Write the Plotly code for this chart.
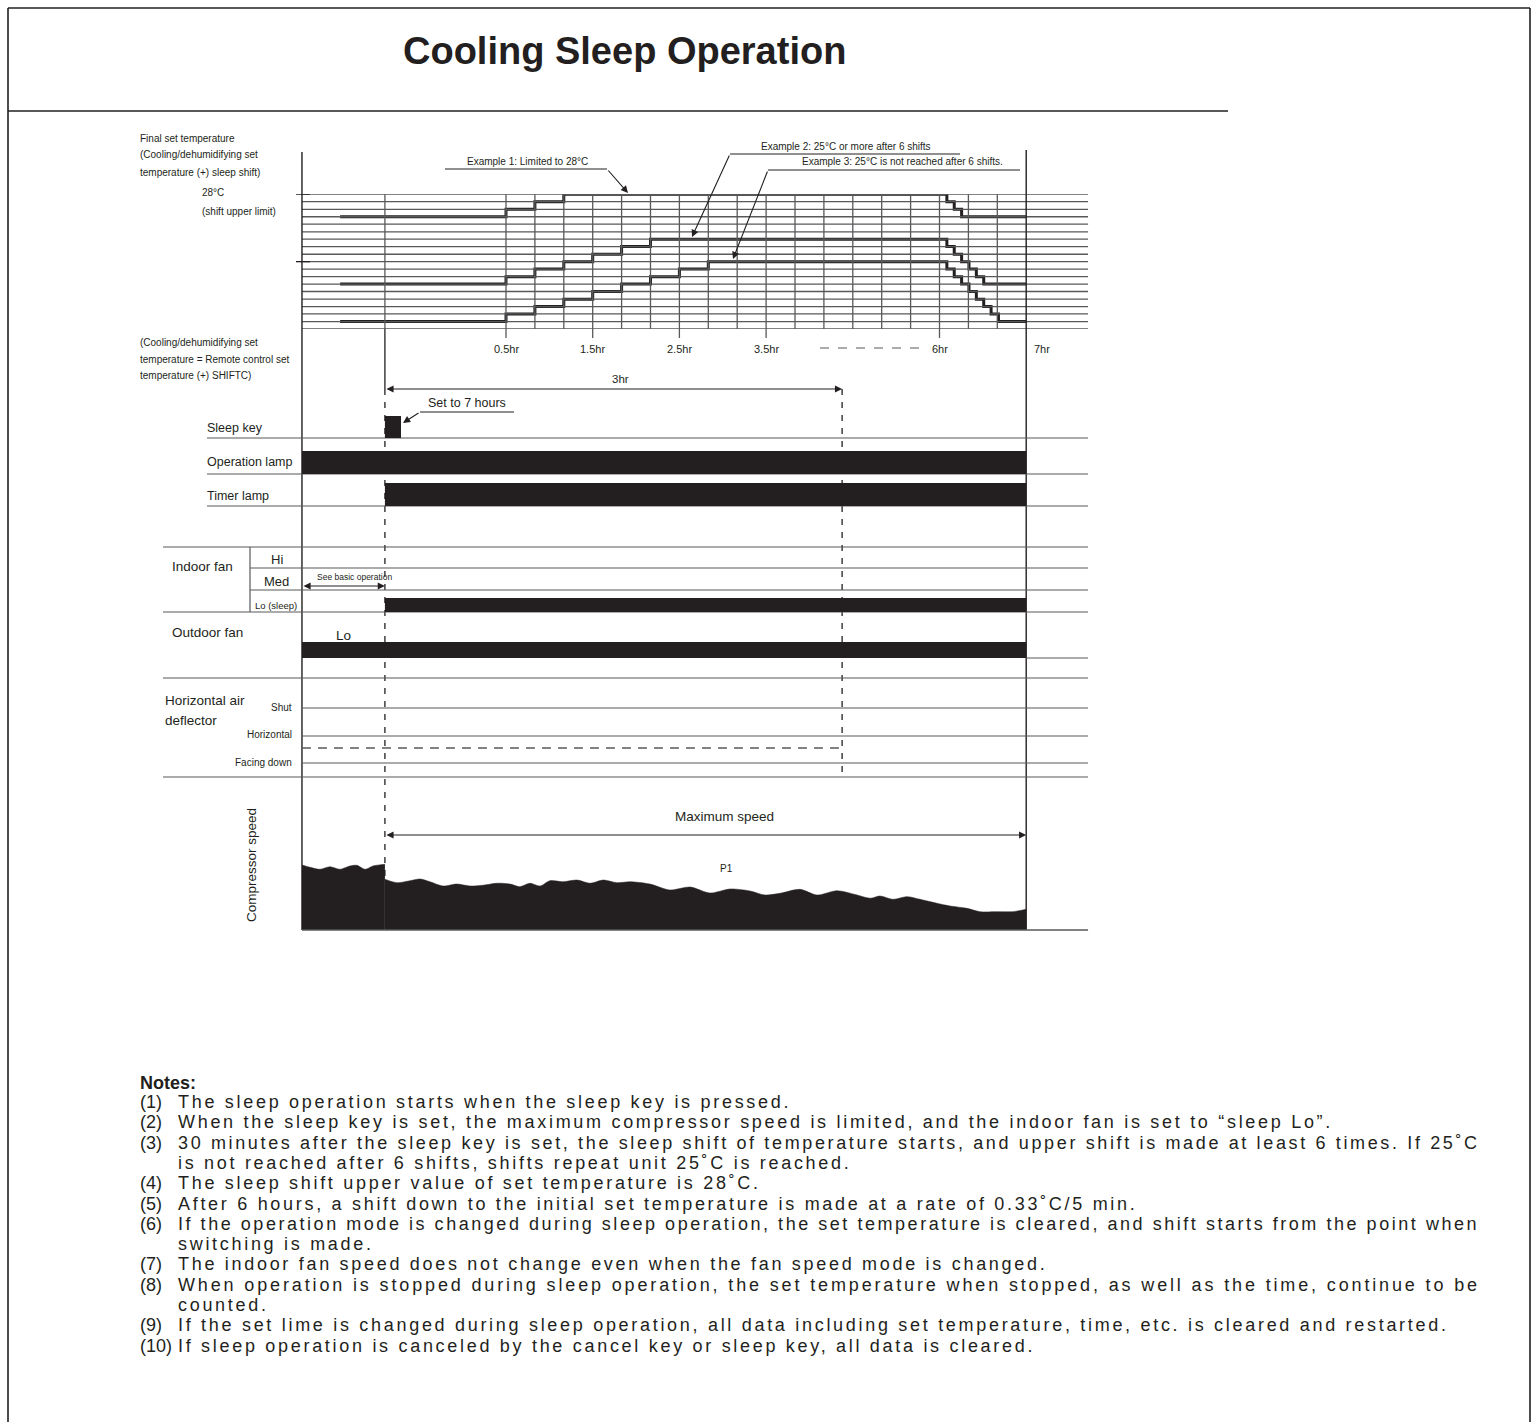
import plotly.graph_objects as go

W, H = 1535, 1422
INK = "#231f20"
GRID = "#58595b"
FONT = "Liberation Sans, Arial, Helvetica, sans-serif"

# ---------------- data ----------------
title = "Cooling Sleep Operation"

# time axis expressed in drawing "shift cells" (one cell = one shift step on the drawing)
tick_cells = [0, 3, 6, 9, 15]
tick_labels = ["0.5hr", "1.5hr", "2.5hr", "3.5hr", "6hr"]
end_cell = 18            # 7hr (end of sleep timer)
end_label = "7hr"
sleep_cell = -4.19       # sleep key pressed
three_hr_cell = 11.63    # 3hr mark
pre_cell = -5.74         # start of the initial set-temperature lines
axis_cell = -7.06        # left edge of the timing chart
grid_end_cell = 20.14    # right end of the row lines
grid_cells = [-4.19, 0, 1, 2, 3, 4, 5, 6, 7, 8, 9, 10, 11, 12, 13, 14, 15, 16, 17]

# set temperature levels (°C), 1/3 °C apart
temp_levels = [28.0, 27.67, 27.33, 27.0, 26.67, 26.33, 26.0, 25.67, 25.33, 25.0,
               24.67, 24.33, 24.0, 23.67, 23.33, 23.0, 22.67, 22.33, 22.0]
temp_ticks = [28.0, 25.0]

# Example 1: limited to 28°C
ex1_x = [-5.74, 0, 1, 2, 15.255, 15.51, 15.765, 18]
ex1_y = [27.0, 27.33, 27.67, 28.0, 27.67, 27.33, 27.0, 27.0]
# Example 2: 25°C or more after 6 shifts
ex2_x = [-5.74, 0, 1, 2, 3, 4, 5, 15.255, 15.51, 15.765, 16.02, 16.275, 16.53, 18]
ex2_y = [24.0, 24.33, 24.67, 25.0, 25.33, 25.67, 26.0, 25.67, 25.33, 25.0, 24.67, 24.33, 24.0, 24.0]
# Example 3: 25°C is not reached after 6 shifts
ex3_x = [-5.74, 0, 1, 2, 3, 4, 5, 6, 7, 15.255, 15.51, 15.765, 16.02, 16.275, 16.53, 16.785, 17.04, 18]
ex3_y = [22.33, 22.67, 23.0, 23.33, 23.67, 24.0, 24.33, 24.67, 25.0, 24.67, 24.33, 24.0, 23.67,
         23.33, 23.0, 22.67, 22.33, 22.33]

# compressor speed (% of maximum) before / after the sleep key
comp_pre_x = [-7.06, -6.78, -6.44, -6.09, -5.74, -5.40, -5.16, -4.88, -4.60, -4.19]
comp_pre_y = [68.4, 66.0, 63.9, 66.6, 63.9, 67.4, 68.1, 63.9, 67.4, 69.2]
comp_post_x = [-4.19, -3.77, -3.32, -2.98, -2.63, -2.18, -1.70, -1.25, -0.80, -0.31, 0.14, 0.48,
               0.83, 1.18, 1.52, 1.97, 2.46, 2.91, 3.36, 3.84, 4.29, 4.98, 5.67, 6.37, 7.06, 7.75,
               8.44, 8.96, 9.48, 10.17, 10.76, 11.45, 12.15, 12.60, 12.94, 13.39, 13.88, 14.33,
               14.91, 15.36, 15.95, 16.40, 16.99, 17.54, 18.0]
comp_post_y = [53.4, 49.8, 51.9, 53.7, 50.8, 46.3, 48.4, 46.3, 47.1, 49.2, 48.4, 45.6,
               49.2, 46.3, 51.9, 50.8, 52.6, 49.2, 52.6, 49.8, 50.8, 48.4, 42.1, 45.3, 38.9, 43.2,
               41.1, 36.8, 38.6, 42.8, 36.8, 41.4, 36.8, 33.4, 35.8, 32.3, 35.1, 32.3,
               28.1, 25.3, 22.8, 19.3, 19.3, 19.3, 21.8]

# notes: (number, text, justified-to-full-width?)
notes = [
    ("(1)", "The sleep operation starts when the sleep key is pressed.", None),
    ("(2)", "When the sleep key is set, the maximum compressor speed is limited, and the indoor fan is set to \u201csleep Lo\u201d.", None),
    ("(3)", "30 minutes after the sleep key is set, the sleep shift of temperature starts, and upper shift is made at least 6 times. If 25\u02daC", 2.64),
    ("", "is not reached after 6 shifts, shifts repeat unit 25\u02daC is reached.", None),
    ("(4)", "The sleep shift upper value of set temperature is 28\u02daC.", None),
    ("(5)", "After 6 hours, a shift down to the initial set temperature is made at a rate of 0.33\u02daC/5 min.", None),
    ("(6)", "If the operation mode is changed during sleep operation, the set temperature is cleared, and shift starts from the point when", 2.54),
    ("", "switching is made.", None),
    ("(7)", "The indoor fan speed does not change even when the fan speed mode is changed.", None),
    ("(8)", "When operation is stopped during sleep operation, the set temperature when stopped, as well as the time, continue to be", 2.86),
    ("", "counted.", None),
    ("(9)", "If the set lime is changed during sleep operation, all data including set temperature, time, etc. is cleared and restarted.", None),
    ("(10)", "If sleep operation is canceled by the cancel key or sleep key, all data is cleared.", None),
]

# ---------------- geometry helpers (layout only) ----------------
ORIGIN_PX, CELL_PX = 506.0, 28.9
def cx(px):
    return (px - ORIGIN_PX) / CELL_PX

TEMP_TOP_PX, TEMP_BOT_PX = 194.3, 329.0
COMP_TOP_PX, COMP_BOT_PX = 835.0, 930.0

fig = go.Figure()

# compressor speed area
fig.add_trace(go.Scatter(x=comp_pre_x, y=comp_pre_y, yaxis="y3", mode="lines",
                         line=dict(color=INK, width=0.5, shape="spline", smoothing=0.8),
                         fill="tozeroy", fillcolor=INK, hoverinfo="skip"))
fig.add_trace(go.Scatter(x=comp_post_x, y=comp_post_y, yaxis="y3", mode="lines",
                         line=dict(color=INK, width=0.5, shape="spline", smoothing=0.8),
                         fill="tozeroy", fillcolor=INK, hoverinfo="skip"))

shapes = []
def line(x0, y0, x1, y1, color=GRID, width=1.2, dash=None, xref="x", yref="y", layer="above"):
    d = dict(type="line", x0=x0, y0=y0, x1=x1, y1=y1, xref=xref, yref=yref, layer=layer,
             line=dict(color=color, width=width))
    if dash:
        d["line"]["dash"] = dash
    shapes.append(d)

def rect(x0, y0, x1, y1, xref="x", yref="y"):
    shapes.append(dict(type="rect", x0=x0, y0=y0, x1=x1, y1=y1, xref=xref, yref=yref,
                       line=dict(width=0), fillcolor=INK))

# page frame
line(8 / W, 1 - 8 / H, 1530 / W, 1 - 8 / H, INK, 1.6, xref="paper", yref="paper")
line(8 / W, 1 - 8 / H, 8 / W, 0, INK, 1.6, xref="paper", yref="paper")
line(1530 / W, 1 - 8 / H, 1530 / W, 0, INK, 1.6, xref="paper", yref="paper")
line(8 / W, 1 - 111 / H, 1228 / W, 1 - 111 / H, INK, 1.6, xref="paper", yref="paper")

# temperature grid (y2 in °C)
for t in temp_levels:
    line(axis_cell, t, grid_end_cell, t, GRID, 1.3, yref="y2")
for g in grid_cells:
    line(g, temp_levels[-1], g, temp_levels[0], GRID, 1.3, yref="y2")
for t in temp_ticks:
    line(cx(296), t, cx(310), t, INK, 1.3, yref="y2")
for c in tick_cells:
    line(c, TEMP_BOT_PX, c, 338, GRID, 1.3)
line(cx(820), 348, cx(925), 348, GRID, 1.2, dash="dash")

# main verticals
line(axis_cell, 152, axis_cell, COMP_BOT_PX, INK, 1.4)
line(end_cell, 150, end_cell, COMP_BOT_PX, INK, 1.4)
line(sleep_cell, TEMP_BOT_PX, sleep_cell, 389, INK, 1.3)
line(sleep_cell, 389, sleep_cell, 878, INK, 1.3, dash="6px,7px", layer="below")
line(three_hr_cell, 389, three_hr_cell, 778, INK, 1.3, dash="6px,7px")

# row lines
line(cx(207), 438, grid_end_cell, 438)
line(cx(207), 474, grid_end_cell, 474)
line(cx(207), 506, grid_end_cell, 506)
line(cx(163), 547, grid_end_cell, 547)
line(cx(250), 568, grid_end_cell, 568)
line(cx(250), 590, grid_end_cell, 590)
line(cx(163), 612, grid_end_cell, 612)
line(cx(250), 547, cx(250), 612)
line(end_cell, 658, grid_end_cell, 658)
line(cx(163), 678, grid_end_cell, 678)
line(axis_cell, 708, grid_end_cell, 708)
line(axis_cell, 736, grid_end_cell, 736)
line(axis_cell, 748, three_hr_cell, 748, GRID, 1.3, dash="9px,7px")
line(axis_cell, 763, grid_end_cell, 763)
line(cx(163), 777, grid_end_cell, 777)
line(axis_cell, COMP_BOT_PX, grid_end_cell, COMP_BOT_PX, GRID, 1.3)

# bars
rect(sleep_cell, 416, cx(401), 438)          # sleep key pulse
rect(axis_cell, 451, end_cell, 474)          # operation lamp
rect(sleep_cell, 483, end_cell, 506)         # timer lamp
rect(sleep_cell, 598, end_cell, 612)         # indoor fan Lo (sleep)
rect(axis_cell, 642, end_cell, 658)          # outdoor fan Lo

# example leader underlines
line(cx(445), 169, cx(607), 169, INK, 1.1)
line(cx(730), 154, cx(960), 154, INK, 1.1)
line(cx(768), 170, cx(1020), 170, INK, 1.1)
line(cx(420), 412, cx(514), 412, INK, 1.1)

# temperature step lines
for xs, ys in [(ex1_x, ex1_y), (ex2_x, ex2_y), (ex3_x, ex3_y)]:
    fig.add_trace(go.Scatter(x=xs, y=ys, yaxis="y2", mode="lines",
                             line=dict(color=INK, width=3, shape="hv"), hoverinfo="skip"))

ann = []
def text(x, y, s, size=12, anchor="left", bold=False, angle=0, color=INK):
    ann.append(dict(x=x / W, y=1 - y / H, xref="paper", yref="paper", text=("<b>%s</b>" % s) if bold else s,
                    showarrow=False, xanchor=anchor, yanchor="middle", textangle=angle,
                    font=dict(family=FONT, size=size, color=color)))

def arrow(x, y, ax, ay, both=False):
    ann.append(dict(x=x, y=y, ax=ax, ay=ay, xref="x", yref="y", axref="x", ayref="y", text="",
                    showarrow=True, arrowhead=2, arrowsize=1.3, arrowwidth=1.1, arrowcolor=INK,
                    startarrowhead=2, startarrowsize=1.3,
                    arrowside="end+start" if both else "end"))

text(624, 51, title, 38, "center", bold=True)

# top-left descriptions
text(138, 139, "Final set temperature", 10)
text(138, 155, "(Cooling/dehumidifying set", 10)
text(138, 172, "temperature (+) sleep shift)", 10)
text(200, 193, "28°C", 10)
text(200, 211, "(shift upper limit)", 10)
text(138, 343, "(Cooling/dehumidifying set", 10)
text(138, 359, "temperature = Remote control set", 10)
text(138, 375, "temperature (+) SHIFTC)", 10)

# time tick labels
for c, lab in zip(tick_cells, tick_labels):
    text(ORIGIN_PX + c * CELL_PX, 349, lab, 11, "center")
text(ORIGIN_PX + end_cell * CELL_PX + 16, 349, end_label, 11, "center")

# examples
text(527, 161, "Example 1: Limited to 28°C", 10, "center")
text(846, 147, "Example 2: 25°C or more after 6 shifts", 10, "center")
text(902, 162, "Example 3: 25°C is not reached after 6 shifts.", 10, "center")
arrow(cx(628), 193, cx(607), 169)
arrow(cx(692), 237, cx(730), 154)
arrow(cx(733), 259, cx(768), 170)

# 3hr
text(620, 379, "3hr", 11.5, "center")
arrow(three_hr_cell, 389, sleep_cell, 389, both=True)
text(467, 403, "Set to 7 hours", 12.5, "center")
arrow(cx(403), 423, cx(420), 412)

# row labels
text(205, 428, "Sleep key", 12.5)
text(205, 462, "Operation lamp", 12.5)
text(205, 496, "Timer lamp", 12.5)
text(170, 566, "Indoor fan", 13.5)
text(277, 559, "Hi", 13, "center")
text(276, 581, "Med", 13, "center")
text(276, 605, "Lo (sleep)", 9.5, "center")
text(315, 577, "See basic operation", 8.5)
arrow(sleep_cell, 586, axis_cell, 586, both=True)
text(170, 632, "Outdoor fan", 13.5)
text(343, 635, "Lo", 13.5, "center")
text(163, 700, "Horizontal air", 13.5)
text(163, 720, "deflector", 13.5)
text(294, 707, "Shut", 10, "right")
text(294, 734, "Horizontal", 10, "right")
text(294, 762, "Facing down", 10, "right")
text(251, 865, "Compressor speed", 13.5, "center", angle=-90)
text(724, 816, "Maximum speed", 13.5, "center")
arrow(end_cell, 835, sleep_cell, 835, both=True)
text(726, 868, "P1", 10, "center")

# notes
NOTE_SIZE = 18
def spaced(s, sp):
    return '<span style="letter-spacing:%.2fpx">%s</span>' % (sp, s)

text(138, 1083, "Notes:", NOTE_SIZE, bold=True)
for i, (num, body, just) in enumerate(notes):
    yy = 1102 + 20.3 * i
    if num:
        text(138, yy, num, NOTE_SIZE)
    text(176, yy, spaced(body, just if just else 2.7), NOTE_SIZE)

fig.update_layout(
    width=W, height=H, margin=dict(l=0, r=0, t=0, b=0),
    paper_bgcolor="white", plot_bgcolor="rgba(0,0,0,0)", showlegend=False,
    xaxis=dict(range=[cx(0), cx(W)], domain=[0, 1], visible=False, fixedrange=True),
    yaxis=dict(range=[H, 0], domain=[0, 1], visible=False, fixedrange=True),
    yaxis2=dict(range=[22, 28], domain=[1 - TEMP_BOT_PX / H, 1 - TEMP_TOP_PX / H],
                anchor="x", visible=False, fixedrange=True),
    yaxis3=dict(range=[0, 100], domain=[1 - COMP_BOT_PX / H, 1 - COMP_TOP_PX / H],
                anchor="x", visible=False, fixedrange=True),
    shapes=shapes, annotations=ann,
)

fig.write_html("out.html", config={"displayModeBar": False, "staticPlot": True},
               post_script="document.body.style.margin='0';document.body.style.overflow='hidden';")
